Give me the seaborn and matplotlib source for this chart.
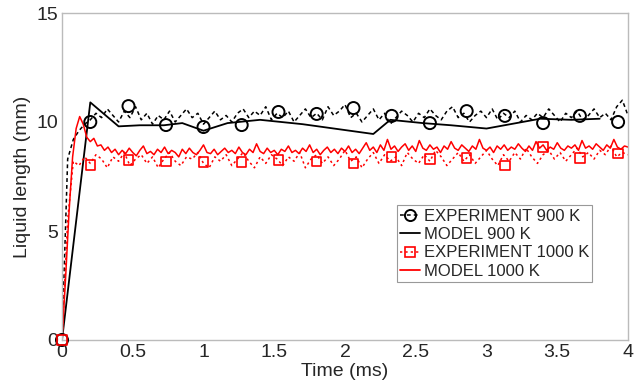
import numpy as np
import pandas as pd
import seaborn as sns
import matplotlib
matplotlib.use("Agg")
import matplotlib.pyplot as plt
from matplotlib.lines import Line2D

# ---------------- data ----------------
exp900_vals = [
    0.0, 8.3, 9.2, 9.6, 9.9, 10.1, 10.4, 10.2, 10.6, 10.3, 10.0, 10.5, 10.2, 10.7, 10.1, 10.4, 9.9, 10.3, 10.1, 10.5,
    10.0, 10.3, 10.6, 10.2, 10.4, 9.9, 10.2, 10.5, 10.1, 10.3, 10.0, 10.4, 10.6, 10.2, 10.5, 10.3, 10.7, 10.1, 10.4, 10.2,
    10.5, 10.0, 10.3, 10.6, 10.2, 10.4, 10.1, 10.7, 10.3, 10.5, 10.8, 10.2, 10.4, 10.0, 10.3, 10.6, 10.1, 10.4, 9.9, 10.2,
    10.5, 10.3, 10.0, 10.4, 10.2, 10.6, 10.3, 10.1, 10.5, 10.7, 10.2, 10.4, 10.0, 10.3, 10.5, 10.2, 10.6, 10.1, 10.4, 10.2,
    10.5, 10.0, 10.3, 10.1, 10.4, 10.2, 10.6, 10.3, 10.0, 10.4, 10.2, 10.5, 10.1, 10.3, 10.6, 10.2, 10.4, 10.1, 10.7, 11.0, 10.3,
]
exp1000_vals = [
    0.0, 5.5, 8.2, 8.0, 8.4, 8.1, 8.5, 8.3, 7.9, 8.4, 8.2, 8.6, 8.0, 8.3, 8.5, 8.1, 8.4, 7.9, 8.3, 8.6,
    8.2, 8.0, 8.4, 8.3, 8.6, 8.1, 7.9, 8.4, 8.2, 8.5, 8.0, 8.3, 8.6, 8.2, 7.9, 8.4, 8.1, 8.5, 8.3, 8.0,
    8.4, 8.2, 8.6, 7.9, 8.3, 8.5, 8.1, 8.4, 8.0, 8.3, 8.7, 8.2, 8.4, 7.9, 8.3, 8.6, 8.1, 8.5, 8.2, 8.4,
    8.0, 8.6, 8.3, 8.1, 8.5, 8.2, 8.7, 8.4, 8.0, 8.3, 8.6, 8.2, 8.5, 8.1, 8.4, 8.7, 8.3, 8.0, 8.5, 8.2,
    8.6, 8.3, 8.8, 8.4, 8.1, 8.5, 8.7, 8.3, 8.6, 8.2, 8.5, 8.8, 8.4, 8.6, 8.3, 8.7, 8.5, 8.9, 8.4, 8.6, 8.5,
]
model1000_vals = [
    0.0, 2.8, 5.9, 8.4, 9.7, 10.25, 9.9, 9.3, 9.1, 9.25, 8.9, 8.95, 8.7, 8.85, 8.6, 8.75,
    8.5, 8.7, 8.55, 8.8, 8.6, 8.45, 8.7, 8.9, 8.55, 8.65, 8.5, 8.75, 8.6, 8.85, 8.55, 8.7,
    8.6, 8.4, 8.75, 8.55, 8.8, 8.6, 8.5, 8.7, 8.95, 8.6, 8.55, 8.75, 8.5, 8.65, 8.8, 8.6,
    8.7, 8.55, 8.85, 8.6, 8.5, 8.75, 8.6, 9.0, 8.65, 8.55, 8.8, 8.6, 8.7, 8.5, 8.75, 8.65,
    8.9, 8.6, 8.7, 8.55, 8.8, 8.65, 8.95, 8.6, 8.75, 8.5, 8.7, 8.85, 8.6, 8.75, 8.55, 8.8,
    8.65, 8.9, 8.6, 8.75, 8.55, 8.8, 9.05, 8.7, 8.85, 8.6, 8.95, 8.7, 9.2, 8.75, 8.9, 8.65,
    8.85, 9.0, 8.7, 8.9, 8.65, 9.15, 8.8, 8.7, 8.95, 8.75, 8.85, 8.6, 8.9, 8.75, 9.1, 8.8,
    8.7, 8.95, 8.8, 8.65, 8.9, 8.75, 9.2, 8.8, 8.7, 8.85, 8.6, 8.9, 8.75, 8.95, 8.7, 8.85,
    8.75, 9.0, 8.8, 8.65, 8.9, 8.7, 9.1, 8.8, 8.95, 8.7, 8.85, 8.75, 9.05, 8.8, 8.7, 8.9,
    8.8, 8.95, 8.7, 9.15, 8.8, 8.9, 8.75, 9.0, 8.85, 8.7, 8.95, 8.8, 9.2, 8.85, 8.75, 8.9,
    8.85,
]
model900_t = [0, 0.2, 0.4, 0.55, 0.72, 0.85, 1.0, 1.17, 1.4, 1.7, 2.2, 2.32, 2.55, 2.75, 3.0, 3.38, 3.6, 3.8]
model900_vals = [0, 10.9, 9.8, 9.85, 9.85, 9.95, 9.6, 9.95, 10.1, 9.9, 9.45, 10.1, 9.95, 9.85, 9.7, 10.15, 10.1, 10.15]

mk900_t = [0, 0.2, 0.47, 0.735, 1.0, 1.27, 1.53, 1.8, 2.06, 2.33, 2.6, 2.86, 3.13, 3.4, 3.66, 3.93]
mk900_vals = [0, 10.0, 10.73, 9.86, 9.77, 9.86, 10.46, 10.37, 10.64, 10.28, 9.95, 10.5, 10.28, 9.95, 10.28, 10.0]
mk1000_t = [0, 0.2, 0.47, 0.735, 1.0, 1.27, 1.53, 1.8, 2.06, 2.33, 2.6, 2.86, 3.13, 3.4, 3.66, 3.93]
mk1000_vals = [0, 8.03, 8.26, 8.2, 8.17, 8.17, 8.26, 8.2, 8.1, 8.4, 8.3, 8.35, 8.0, 8.85, 8.35, 8.55]

t_exp = np.arange(len(exp900_vals)) * 0.04
t_mod = np.arange(len(model1000_vals)) * 0.025

labels = ["EXPERIMENT 900 K", "MODEL 900 K", "EXPERIMENT 1000 K", "MODEL 1000 K"]
xticks = [0, 0.5, 1, 1.5, 2, 2.5, 3, 3.5, 4]
xticklabels = ["0", "0.5", "1", "1.5", "2", "2.5", "3", "3.5", "4"]
yticks = [0, 5, 10, 15]

# ---------------- plot ----------------
sns.set_style("white")
plt.rcParams["font.family"] = ["Liberation Sans", "DejaVu Sans"]

fig = plt.figure(figsize=(6.41, 3.87), dpi=100)
ax = fig.add_axes([62 / 641, 47 / 387, 566 / 641, 327 / 387])

red = "#ff0000"
sns.lineplot(x=t_exp, y=exp900_vals, ax=ax, color="black", lw=1.1,
             linestyle=(0, (2.5, 2)), sort=False, estimator=None)
sns.lineplot(x=model900_t, y=model900_vals, ax=ax, color="black", lw=1.3,
             sort=False, estimator=None)
sns.lineplot(x=t_exp, y=exp1000_vals, ax=ax, color=red, lw=1.1,
             linestyle=(0, (1.5, 2)), sort=False, estimator=None)
sns.lineplot(x=t_mod, y=model1000_vals, ax=ax, color=red, lw=1.1,
             sort=False, estimator=None)

sns.scatterplot(x=mk900_t, y=mk900_vals, ax=ax, marker="o", s=75,
                facecolor="none", edgecolor="black", linewidth=1.4, clip_on=False, zorder=5)
sns.scatterplot(x=mk1000_t, y=mk1000_vals, ax=ax, marker="s", s=45,
                facecolor="none", edgecolor=red, linewidth=1.2, clip_on=False, zorder=5)

ax.set_xlim(0, 4)
ax.set_ylim(0, 15)
ax.set_xticks(xticks)
ax.set_xticklabels(xticklabels)
ax.set_yticks(yticks)
ax.tick_params(direction="in", length=4, color="#aaaaaa", labelsize=14, pad=3)
for s in ax.spines.values():
    s.set_color("#bbbbbb")
    s.set_linewidth(1.0)
ax.set_xlabel("Time (ms)", fontsize=14, labelpad=1)
ax.set_ylabel("Liquid length (mm)", fontsize=14, labelpad=4)

handles = [
    Line2D([], [], color="black", lw=1.1, linestyle=(0, (2.5, 2)), marker="o",
           markersize=8, markerfacecolor="none", markeredgewidth=1.4),
    Line2D([], [], color="black", lw=1.3),
    Line2D([], [], color=red, lw=1.1, linestyle=(0, (1.5, 2)), marker="s",
           markersize=6.5, markerfacecolor="none", markeredgewidth=1.2),
    Line2D([], [], color=red, lw=1.3),
]
leg = ax.legend(handles, labels, loc="lower left", bbox_to_anchor=(0.592, 0.177),
                fontsize=12, handlelength=1.2, handletextpad=0.2, borderpad=0.2,
                labelspacing=0.2, fancybox=False, framealpha=1, borderaxespad=0)
leg.get_frame().set_edgecolor("#999999")
leg.get_frame().set_linewidth(0.8)

fig.savefig("out.png", dpi=100)
